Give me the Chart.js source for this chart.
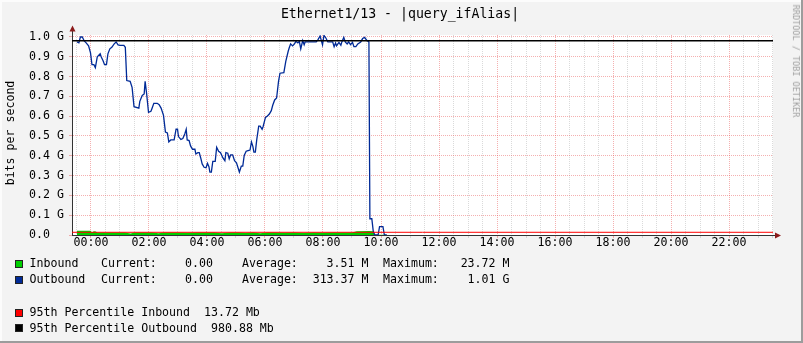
<!DOCTYPE html>
<html>
<head>
<meta charset="utf-8">
<script src="https://cdn.jsdelivr.net/npm/chart.js@4/dist/chart.umd.min.js"></script>
<style>
  body { margin: 0; background: #f3f3f3; }
  #wrap { position: relative; width: 803px; height: 343px; font-family: "DejaVu Sans Mono", monospace; color: #000; }
  #wrap canvas { position: absolute; left: 0; top: 0; }
  .t { position: absolute; white-space: pre; font-size: 11.6px; line-height: 1.164em; }
  .r { text-align: right; }
  .sq { position: absolute; width: 6px; height: 6px; border: 1px solid #222; }
</style>
</head>
<body>
<div id="wrap">
  <canvas id="c" width="803" height="343"></canvas>
  <div class="t" style="left:0;width:800px;top:6.2px;font-size:13.2px;text-align:center">Ethernet1/13 - |query_ifAlias|</div>
  <div class="t" style="left:11px;top:132.5px;transform:translate(-50%,-50%) rotate(-90deg)">bits per second</div>
  <div class="t" style="left:795px;top:61px;font-size:8.5px;color:#a0a0a0;transform:translate(-50%,-50%) rotate(90deg)">RRDTOOL / TOBI OETIKER</div>
  <div id="legend"></div>
</div>
<script>
// times are minutes from 00:00 (negative = previous day), values in Gbit/s
const outTimes = [-29,-25,-22,-18,-14,-10,-5,-1,2,6,9,13,19,21,25,28,32,35,39,43,48,52,56,60,68,71,74,81,85,89,
  99,101,106,110,112,115,119,124,126,130,137,141,145,150,154,158,161,165,172,176,179,181,186,190,194,197,199,203,206,210,
  215,217,221,224,227,230,234,238,241,244,246,249,252,257,260,264,268,273,277,279,283,286,289,293,297,301,307,311,314,317,
  321,325,329,332,335,337,340,343,347,350,354,356,361,365,369,373,376,380,384,388,391,399,403,408,410,413,417,421,424,428,
  431,434,438,441,443,459,466,470,474,477,479,482,486,490,500,503,506,508,513,517,519,523,526,530,533,537,541,544,548,552,
  558,562,566,570,575,577,581,584,587,594,597,604,607,612];
const outValues = [0.975,0.97,1.0,1.0,0.98,0.97,0.955,0.92,0.86,0.86,0.845,0.90,0.915,0.90,0.88,0.86,0.86,0.915,0.94,0.948,
  0.965,0.975,0.96,0.958,0.958,0.948,0.78,0.776,0.746,0.648,0.641,0.675,0.705,0.712,0.776,0.716,0.62,0.625,0.638,0.665,
  0.665,0.658,0.641,0.604,0.52,0.515,0.47,0.48,0.48,0.534,0.534,0.497,0.483,0.487,0.51,0.534,0.48,0.477,0.45,0.433,
  0.433,0.409,0.416,0.416,0.389,0.359,0.342,0.34,0.362,0.345,0.318,0.318,0.372,0.372,0.443,0.423,0.416,0.389,0.375,0.416,
  0.413,0.385,0.405,0.405,0.375,0.365,0.318,0.348,0.348,0.402,0.423,0.426,0.429,0.47,0.446,0.419,0.419,0.483,0.55,0.55,
  0.534,0.547,0.594,0.601,0.611,0.628,0.655,0.682,0.692,0.776,0.817,0.82,0.877,0.928,0.944,0.965,0.955,0.965,0.978,0.97,
  0.978,0.94,0.982,0.961,0.975,0.975,0.975,0.988,1.005,0.978,0.96,1.008,0.995,0.975,0.975,0.951,0.97,0.955,0.973,0.958,
  0.975,0.998,0.975,0.965,0.975,0.961,0.973,0.951,0.951,0.965,0.975,0.992,0.998,0.985,0.975,0.082,0.082,0.019,0.0,0.0,
  0.042,0.042,0.0,0.0];
const inTimes = [-29,-1,2,6,10,13,30,50,70,82,90,110,125,140,150,180,200,220,240,255,270,290,305,320,335,350,365,380,
  400,420,440,460,480,500,520,540,550,575,584,587,612];
const inValues = [0.022,0.022,0.013,0.019,0.018,0.013,0.012,0.013,0.012,0.008,0.012,0.012,0.013,0.009,0.012,0.013,0.011,
  0.012,0.013,0.013,0.009,0.012,0.013,0.010,0.012,0.009,0.012,0.013,0.011,0.012,0.010,0.012,0.011,0.012,0.013,0.013,
  0.019,0.020,0.019,0.001,0.001];
const p95In = 0.01372;
const p95Out = 0.98088;
const xLabels = ['00:00','02:00','04:00','06:00','08:00','10:00','12:00','14:00','16:00','18:00','20:00','22:00'];
const legendRows = [
  { name: 'Inbound',  color: '#00CF00', cur: '0.00', avg: '3.51 M',   max: '23.72 M' },
  { name: 'Outbound', color: '#002A97', cur: '0.00', avg: '313.37 M', max: '1.01 G' }
];
const pctRows = [
  { name: '95th Percentile Inbound',  color: '#FF0000', val: '13.72 Mb' },
  { name: '95th Percentile Outbound', color: '#000000', val: '980.88 Mb' }
];

const X_MIN = -0.655, X_MAX = 23.517;

// legend text
const lg = document.getElementById('legend');
let html = '';
legendRows.forEach((r, i) => {
  const top = 257.2 + i * 16;
  html += `<div class="sq" style="left:15px;top:${top + 3}px;background:${r.color}"></div>`;
  html += `<div class="t" style="left:29.5px;top:${top}px">${r.name}</div>`;
  html += `<div class="t" style="left:101px;top:${top}px">Current:</div>`;
  html += `<div class="t r" style="right:${803 - 213}px;top:${top}px">${r.cur}</div>`;
  html += `<div class="t" style="left:242px;top:${top}px">Average:</div>`;
  html += `<div class="t r" style="right:${803 - 368.5}px;top:${top}px">${r.avg}</div>`;
  html += `<div class="t" style="left:383px;top:${top}px">Maximum:</div>`;
  html += `<div class="t r" style="right:${803 - 509.5}px;top:${top}px">${r.max}</div>`;
});
pctRows.forEach((r, i) => {
  const top = 306 + i * 15.6;
  html += `<div class="sq" style="left:15px;top:${top + 2.5}px;background:${r.color}"></div>`;
  html += `<div class="t" style="left:29.5px;top:${top}px">${r.name}  ${r.val}</div>`;
});
lg.innerHTML = html;

const toPts = (ts, vs) => ts.map((t, i) => ({ x: t / 60, y: vs[i] }));
const xTicks = [];
for (let h = -0.5; h <= 23.5; h += 0.5) xTicks.push(h);
const yTicks = [];
for (let i = 0; i <= 20; i++) yTicks.push(Math.round(i * 5) / 100);

const frame = {
  id: 'frame',
  beforeDraw(c) {
    const ctx = c.ctx, a = c.chartArea;
    ctx.save();
    ctx.fillStyle = '#f3f3f3'; ctx.fillRect(0, 0, 803, 343);
    ctx.fillStyle = '#fcfcfc'; ctx.fillRect(0, 0, 803, 2); ctx.fillRect(0, 0, 2, 343);
    ctx.fillStyle = '#9c9c9c'; ctx.fillRect(0, 341, 803, 2); ctx.fillRect(801, 0, 2, 343);
    ctx.fillStyle = '#ffffff'; ctx.fillRect(a.left, a.top, a.right - a.left, a.bottom - a.top);
    ctx.restore();
  },
  afterDraw(c) {
    const ctx = c.ctx, a = c.chartArea;
    ctx.save();
    ctx.strokeStyle = '#333'; ctx.lineWidth = 1;
    ctx.beginPath();
    ctx.moveTo(a.left + 0.5, a.top); ctx.lineTo(a.left + 0.5, 29);
    ctx.moveTo(a.right, a.bottom + 0.5); ctx.lineTo(777, a.bottom + 0.5);
    ctx.stroke();
    ctx.fillStyle = '#8b1a1a';
    ctx.beginPath();
    ctx.moveTo(a.left - 2.5, 31.5); ctx.lineTo(a.left + 3.5, 31.5); ctx.lineTo(a.left + 0.5, 25.5); ctx.closePath(); ctx.fill();
    ctx.beginPath();
    ctx.moveTo(775, a.bottom - 2.5); ctx.lineTo(775, a.bottom + 3.5); ctx.lineTo(781, a.bottom + 0.5); ctx.closePath(); ctx.fill();
    ctx.restore();
  }
};

const font = { family: 'DejaVu Sans Mono', size: 11.6 };
const majorC = 'rgba(230,80,80,0.45)', minorC = 'rgba(150,150,150,0.35)';

new Chart(document.getElementById('c'), {
  type: 'line',
  data: {
    datasets: [
      { data: [{ x: X_MIN, y: p95Out }, { x: X_MAX, y: p95Out }], borderColor: '#000000', borderWidth: 1.5, order: 0 },
      { data: [{ x: X_MIN, y: p95In }, { x: X_MAX, y: p95In }], borderColor: '#FF0000', borderWidth: 1, order: 0 },
      { data: toPts(outTimes, outValues), borderColor: '#002A97', borderWidth: 1.3, order: 1 },
      { data: toPts(inTimes, inValues), borderColor: '#00CF00', backgroundColor: '#00CF00', borderWidth: 0, fill: 'origin', order: 2 }
    ]
  },
  options: {
    responsive: false,
    animation: false,
    layout: { padding: { left: 29, top: 35, right: 30, bottom: 88 } },
    elements: { point: { radius: 0 }, line: { tension: 0 } },
    plugins: { legend: { display: false }, tooltip: { enabled: false } },
    scales: {
      x: {
        type: 'linear', min: X_MIN, max: X_MAX,
        afterBuildTicks: s => { s.ticks = xTicks.map(v => ({ value: v })); },
        afterFit: s => { s.height = 20; },
        ticks: {
          autoSkip: false, maxRotation: 0, padding: -1.5, color: '#000', font,
          callback: v => (v >= 0 && Math.abs(v % 2) < 1e-6) ? xLabels[v / 2] : ''
        },
        grid: {
          color: c => (c.tick && Math.abs(c.tick.value % 2) < 1e-6) ? majorC : minorC,
          tickLength: 3, lineWidth: 1
        },
        border: { color: '#333', dash: [1, 1] }
      },
      y: {
        min: 0, max: 1.01,
        afterBuildTicks: s => { s.ticks = yTicks.map(v => ({ value: v })); },
        afterFit: s => { s.width = 43; },
        ticks: {
          crossAlign: 'far', color: '#000', font,
          callback: v => {
            const k = Math.round(v * 100);
            if (k % 10 !== 0) return '';
            return k === 0 ? '0.0' : (k / 100).toFixed(1) + ' G';
          }
        },
        grid: {
          color: c => (c.tick && Math.round(c.tick.value * 100) % 10 === 0) ? majorC : minorC,
          tickLength: 3, lineWidth: 1
        },
        border: { color: '#333', dash: [1, 1] }
      }
    }
  },
  plugins: [frame]
});
</script>
</body>
</html>
